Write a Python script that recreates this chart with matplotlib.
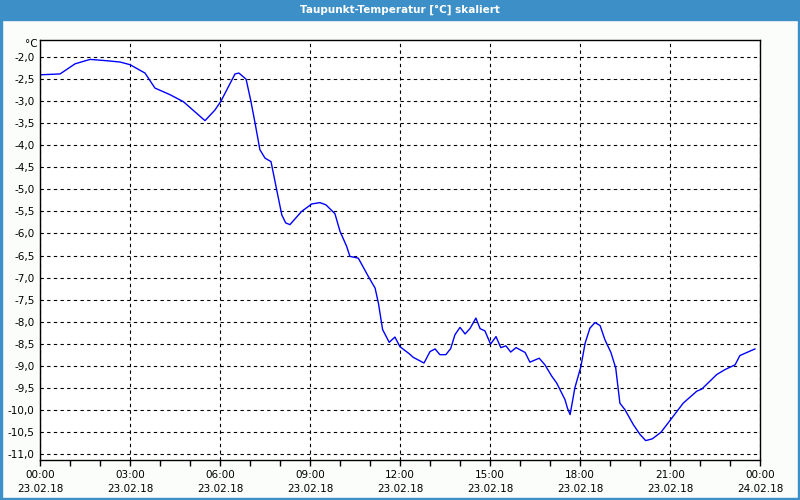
import matplotlib
matplotlib.use("Agg")
import matplotlib.pyplot as plt
from matplotlib.patches import Rectangle
from matplotlib.ticker import MultipleLocator, FixedLocator

# dew point samples (hours since 23.02.18 00:00, degC)
hours = [
    0.0, 0.67, 1.17, 1.67, 2.22, 2.67, 3.0, 3.5, 3.83, 4.33, 4.78, 5.5,
    5.83, 6.03, 6.5, 6.63, 6.87, 7.03, 7.17, 7.33, 7.5, 7.7, 7.89, 8.06,
    8.19, 8.33, 8.72, 9.06, 9.33, 9.53, 9.83, 10.0, 10.22, 10.33, 10.61,
    10.94, 11.17, 11.28, 11.42, 11.64, 11.83, 12.0, 12.31, 12.44, 12.8,
    13.0, 13.17, 13.33, 13.53, 13.69, 13.83, 14.0, 14.17, 14.33, 14.53,
    14.67, 14.83, 15.02, 15.2, 15.36, 15.53, 15.69, 15.87, 16.17, 16.33,
    16.64, 16.83, 17.06, 17.22, 17.5, 17.58, 17.67, 17.83, 18.03, 18.17,
    18.33, 18.5, 18.67, 18.83, 19.03, 19.19, 19.33, 19.5, 19.78, 20.0,
    20.19, 20.41, 20.7, 21.06, 21.44, 21.89, 22.06, 22.56, 22.83, 23.17,
    23.33, 23.83,
]
dewpoint = [
    -2.40, -2.38, -2.15, -2.05, -2.08, -2.11, -2.17, -2.36, -2.70, -2.85,
    -3.01, -3.44, -3.20, -3.00, -2.38, -2.36, -2.50, -3.00, -3.50, -4.10,
    -4.29, -4.37, -5.01, -5.58, -5.76, -5.80, -5.50, -5.33, -5.30, -5.35,
    -5.55, -5.95, -6.29, -6.52, -6.56, -6.97, -7.24, -7.58, -8.18, -8.47,
    -8.35, -8.57, -8.73, -8.81, -8.94, -8.68, -8.62, -8.75, -8.75, -8.61,
    -8.30, -8.13, -8.28, -8.16, -7.92, -8.16, -8.21, -8.51, -8.34, -8.59,
    -8.55, -8.69, -8.59, -8.70, -8.92, -8.83, -8.98, -9.24, -9.39, -9.77,
    -9.96, -10.11, -9.50, -9.02, -8.49, -8.15, -8.02, -8.09, -8.41, -8.70,
    -9.05, -9.85, -10.00, -10.34, -10.56, -10.70, -10.66, -10.51, -10.19,
    -9.85, -9.58, -9.53, -9.20, -9.09, -8.98, -8.77, -8.62,
]

major_hours = [0, 3, 6, 9, 12, 15, 18, 21, 24]
major_labels = [
    "00:00\n23.02.18", "03:00\n23.02.18", "06:00\n23.02.18",
    "09:00\n23.02.18", "12:00\n23.02.18", "15:00\n23.02.18",
    "18:00\n23.02.18", "21:00\n23.02.18", "00:00\n24.02.18",
]
y_ticks = [-11.0 + 0.5 * i for i in range(19)]

title_text = "Taupunkt-Temperatur [°C] skaliert"
frame_blue = "#3c8fc7"

fig = plt.figure(figsize=(8, 5), dpi=100)
fig.patch.set_facecolor("#fbfdfb")

# window frame + title bar
fig.patches.append(Rectangle((0, 1 - 20 / 500), 1, 20 / 500,
                             transform=fig.transFigure, color=frame_blue,
                             zorder=0))
for x0, y0, w, h in [(0, 0, 2 / 800, 1), (1 - 2 / 800, 0, 2 / 800, 1),
                     (0, 0, 1, 2 / 500)]:
    fig.patches.append(Rectangle((x0, y0), w, h, transform=fig.transFigure,
                                 color=frame_blue, zorder=0))
fig.text(0.5, 1 - 10 / 500, title_text, ha="center", va="center",
         color="white", fontsize=7.5, fontweight="bold")

ax = fig.add_axes([40 / 800, 40 / 500, 720 / 800, 420 / 500])
ax.set_facecolor("white")
ax.plot(hours, dewpoint, color="#0000ff", lw=1)

ax.set_xlim(0, 24)
ax.set_ylim(-11.14, -1.61)

ax.xaxis.set_major_locator(FixedLocator(major_hours))
ax.xaxis.set_minor_locator(MultipleLocator(1))
ax.set_xticklabels(major_labels)
ax.set_yticks(y_ticks)
ax.set_yticklabels([f"{v:.1f}".replace(".", ",") for v in y_ticks])

ax.tick_params(axis="x", which="both", direction="out", length=4, width=1,
               labelsize=7.5, pad=3)
ax.tick_params(axis="y", length=0, labelsize=7.5, pad=4)
for lbl in ax.get_xticklabels():
    lbl.set_linespacing(1.55)

ax.grid(True, which="major", color="black", lw=0.8, ls=(0, (3, 3)))
for sp in ax.spines.values():
    sp.set_color("black")
    sp.set_linewidth(1)

ax.text(-0.003, 1.0 - 4 / 420, "°C", transform=ax.transAxes, ha="right",
        va="center", fontsize=7.5)

fig.savefig("out.png", dpi=100, facecolor=fig.get_facecolor())
